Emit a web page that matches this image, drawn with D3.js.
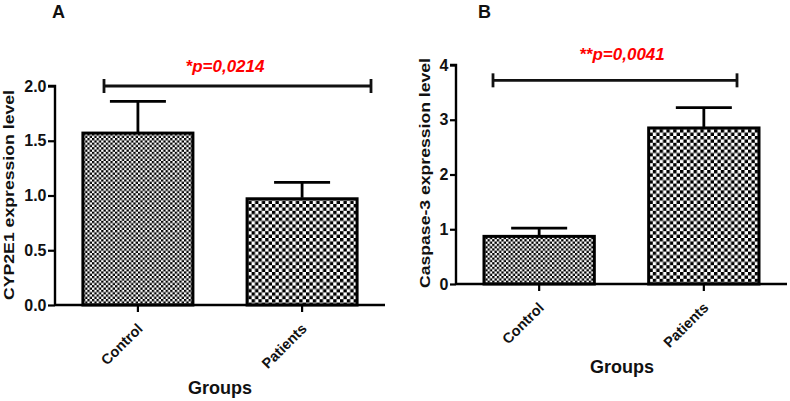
<!DOCTYPE html>
<html><head><meta charset="utf-8">
<script src="https://cdn.jsdelivr.net/npm/d3@7"></script>
<style>body{margin:0;background:#fff;} svg{display:block;font-family:"Liberation Sans",Arial,sans-serif;}</style>
</head><body>
<svg id="c" width="790" height="401"></svg>
<script>
const categories = ["Control", "Patients"];
const cypMeans = [1.57, 0.97];
const cypErrors = [0.29, 0.15];
const caspMeans = [0.87, 2.85];
const caspErrors = [0.15, 0.37];
const cypTicks = [0, 0.5, 1.0, 1.5, 2.0];
const caspTicks = [0, 1, 2, 3, 4];
const pTexts = ["*p=0,0214", "**p=0,0041"];
const panelLabels = ["A", "B"];
const yTitles = ["CYP2E1 expression level", "Caspase-3 expression level"];
const xTitle = "Groups";
const bracketValues = [2.0, 3.72];

const svg = d3.select("#c");
const defs = svg.append("defs");
// fine pattern (Control)
const pf = defs.append("pattern").attr("id","fine").attr("patternUnits","userSpaceOnUse").attr("width",4.6).attr("height",4.6);
pf.append("rect").attr("width",4.6).attr("height",4.6).attr("fill","#fff");
pf.append("rect").attr("x",0).attr("y",0).attr("width",2.3).attr("height",2.3).attr("fill","#000");
pf.append("rect").attr("x",2.3).attr("y",2.3).attr("width",2.3).attr("height",2.3).attr("fill","#000");
// coarse pattern (Patients)
const pc = defs.append("pattern").attr("id","coarse").attr("patternUnits","userSpaceOnUse").attr("width",6.8).attr("height",6.8);
pc.append("rect").attr("width",6.8).attr("height",6.8).attr("fill","#fff");
pc.append("rect").attr("x",0).attr("y",0).attr("width",3.4).attr("height",3.4).attr("fill","#000");
pc.append("rect").attr("x",3.4).attr("y",3.4).attr("width",3.4).attr("height",3.4).attr("fill","#000");
const fills = ["url(#fine)", "url(#coarse)"];
const FONT = "Liberation Sans, Arial, sans-serif";

function panel(cfg) {
  const g = svg.append("g");
  const y = d3.scaleLinear().domain(cfg.domain).range([cfg.y0, cfg.y1]);
  const x = d3.scaleBand().domain(categories).range([cfg.xl, cfg.xr]).paddingInner(0.33).paddingOuter(0.17);
  // bars
  g.selectAll("rect.bar").data(categories).join("rect")
    .attr("x", d => x(d)).attr("width", x.bandwidth())
    .attr("y", (d,i) => y(cfg.means[i])).attr("height", (d,i) => y(0) - y(cfg.means[i]))
    .attr("fill", (d,i) => fills[i]).attr("stroke","#000").attr("stroke-width",3);
  // error bars
  categories.forEach((c,i) => {
    const cx = x(c) + x.bandwidth()/2;
    const top = y(cfg.means[i] + cfg.errs[i]);
    g.append("line").attr("x1",cx).attr("x2",cx).attr("y1",y(cfg.means[i])-1).attr("y2",top).attr("stroke","#000").attr("stroke-width",2.8);
    g.append("line").attr("x1",cx-28).attr("x2",cx+28).attr("y1",top).attr("y2",top).attr("stroke","#000").attr("stroke-width",2.8);
  });
  // y axis
  const ya = g.append("g").attr("transform",`translate(${cfg.xl},0)`)
    .call(d3.axisLeft(y).tickValues(cfg.ticks).tickFormat(cfg.fmt).tickSize(cfg.yTick).tickPadding(1.5));
  ya.select(".domain").attr("stroke","#000").attr("stroke-width",2.4).attr("d",`M-${cfg.yTick},${y(cfg.domain[1])}H0V${y(0)}`);
  ya.selectAll(".tick line").attr("stroke","#000").attr("stroke-width",2.2);
  ya.selectAll(".tick text").attr("font-size",16).attr("font-weight","bold").attr("fill","#111").attr("font-family",FONT);
  // x axis
  const xa = g.append("g").attr("transform",`translate(0,${y(0)})`)
    .call(d3.axisBottom(x).tickSize(7).tickPadding(4));
  xa.select(".domain").attr("stroke","#000").attr("stroke-width",2.4).attr("d",`M${cfg.xl},0H${cfg.xr}`);
  xa.selectAll(".tick line").attr("stroke","#000").attr("stroke-width",2.2);
  xa.selectAll(".tick text").attr("font-size",14.5).attr("font-weight","bold").attr("fill","#111")
    .attr("font-family",FONT)
    .attr("text-anchor","end").attr("dy","0.35em")
    .attr("transform","translate(2,21) rotate(-45)").attr("y",0).attr("x",0);
  // titles
  g.append("text").attr("x",cfg.xTitleX).attr("y",cfg.xTitleY).attr("text-anchor","middle")
    .attr("font-size",18).attr("font-weight","bold").attr("fill","#111").text(xTitle);
  g.append("text").attr("transform",`translate(${cfg.yTitleX},${cfg.yTitleY}) rotate(-90)`).attr("text-anchor","middle")
    .attr("font-size",15.5).attr("font-weight","bold").attr("fill","#111")
    .attr("textLength",cfg.yTitleLen).attr("lengthAdjust","spacingAndGlyphs").text(cfg.yTitle);
  g.append("text").attr("x",cfg.labelX).attr("y",18).attr("font-size",18).attr("font-weight","bold").attr("fill","#111").text(cfg.label);
  // bracket
  const by = y(cfg.bracket);
  g.append("line").attr("x1",cfg.bx1).attr("x2",cfg.bx2).attr("y1",by).attr("y2",by).attr("stroke","#111").attr("stroke-width",2.8);
  [cfg.bx1, cfg.bx2].forEach(bx => g.append("line").attr("x1",bx).attr("x2",bx).attr("y1",by-7).attr("y2",by+7).attr("stroke","#111").attr("stroke-width",2.8));
  g.append("text").attr("x",cfg.pX).attr("y",cfg.pY).attr("text-anchor","middle").attr("font-size",17)
    .attr("font-weight","bold").attr("font-style","italic").attr("fill","#ff0000").text(cfg.p);
}

panel({domain:[0,2], y0:305, y1:86, xl:55, xr:385, means:cypMeans, errs:cypErrors, ticks:cypTicks, yTick:7,
  fmt:d3.format(".1f"), yTitle:yTitles[0], yTitleX:14, yTitleY:195, yTitleLen:210, xTitleX:220, xTitleY:394,
  label:panelLabels[0], labelX:52, bracket:bracketValues[0], bx1:104, bx2:371, p:pTexts[0], pX:225, pY:72});
panel({domain:[0,4], y0:284, y1:65, xl:456, xr:787, means:caspMeans, errs:caspErrors, ticks:caspTicks, yTick:6,
  fmt:d3.format("d"), yTitle:yTitles[1], yTitleX:430, yTitleY:173, yTitleLen:230, xTitleX:622, xTitleY:373,
  label:panelLabels[1], labelX:478, bracket:bracketValues[1], bx1:493, bx2:737, p:pTexts[1], pX:622, pY:60});
</script>
</body></html>
